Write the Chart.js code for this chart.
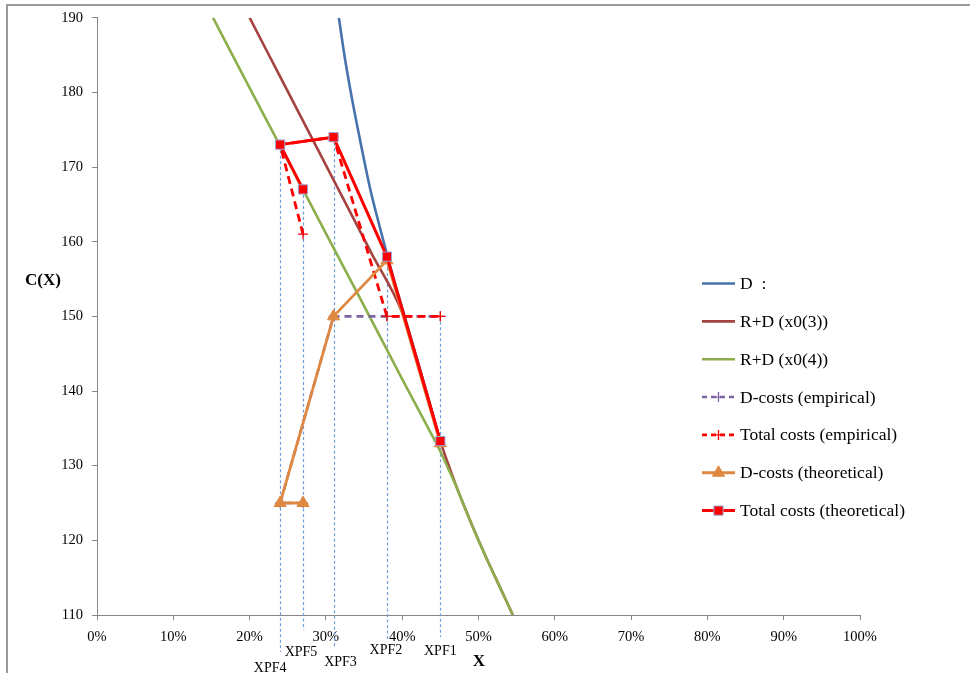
<!DOCTYPE html>
<html>
<head>
<meta charset="utf-8">
<script src="https://cdn.jsdelivr.net/npm/chart.js@4.4.0/dist/chart.umd.min.js"></script>
<style>
html, body { margin: 0; padding: 0; background: #fff; }
#wrap { width: 970px; height: 673px; }
</style>
</head>
<body>
<div id="wrap"><canvas id="costChart" width="970" height="673"></canvas></div>
<script>
// ---------- data ----------
// x in %, y = C(X)
const xTicks = [0, 10, 20, 30, 40, 50, 60, 70, 80, 90, 100];
const yTicks = [110, 120, 130, 140, 150, 160, 170, 180, 190];

const dCurveX = [31.7, 32.5, 33.5, 34.5, 35.8, 37, 38, 39, 40, 41, 42, 43, 44, 45];
const dCurveY = [190, 184.5, 178.7, 173.5, 167.1, 162.2, 158.3, 154.6, 151.1, 147.6, 144.1, 140.5, 136.9, 133.3];

const rd3X = [20, 24, 28, 32, 36, 40, 41, 42, 43, 44, 45, 46, 47, 48, 49, 50, 51, 52, 53, 54.5];
const rd3Y = [190, 182.1, 174.2, 166.3, 158.4, 150.5, 147.3, 144, 140.5, 136.9, 133.3, 130.3, 127.5, 124.9, 122.4, 120, 117.7, 115.5, 113.3, 110];

const rd4X = [15.2, 20, 25, 30, 35, 40, 44, 45, 46, 47, 48, 49, 50, 51, 52, 53, 54.5];
const rd4Y = [190, 180.6, 170.9, 161.1, 151.4, 141.6, 133.9, 131.9, 129.7, 127.4, 124.9, 122.4, 120, 117.7, 115.5, 113.3, 110];

// points in order XPF5, XPF4, XPF3, XPF2, XPF1
const pointX = [27, 24, 31, 38, 45];
const dCostsEmp = [125, 125, 150, 150, 150];
const totalEmp = [161, 173, 174, 150, 150];
const dCostsTheo = [125, 125, 150, 157.5, 133];
const totalTheo = [167, 173, 174, 158, 133.3];
const xpfNames = ['XPF5', 'XPF4', 'XPF3', 'XPF2', 'XPF1'];

const seriesNames = [
    'D  :',
    'R+D (x0(3))',
    'R+D (x0(4))',
    'D-costs (empirical)',
    'Total costs (empirical)',
    'D-costs (theoretical)',
    'Total costs (theoretical)'
];

function pairs(xs, ys) {
    return xs.map((x, i) => ({ x: x, y: ys[i] }));
}

const SERIF = '"Liberation Serif", "Times New Roman", serif';

// ---------- datasets ----------
const curveBase = { showLine: true, pointRadius: 0, borderWidth: 2.6, cubicInterpolationMode: 'monotone' };

const datasets = [
    Object.assign({ label: seriesNames[0], data: pairs(dCurveX, dCurveY), borderColor: '#4673AE' }, curveBase),
    Object.assign({ label: seriesNames[1], data: pairs(rd3X, rd3Y), borderColor: '#A4433F' }, curveBase),
    Object.assign({ label: seriesNames[2], data: pairs(rd4X, rd4Y), borderColor: '#8DAE4C' }, curveBase),
    {
        label: seriesNames[3], data: pairs(pointX, dCostsEmp), showLine: true,
        borderColor: '#7E63A1', borderWidth: 2.6, borderDash: [7, 5],
        pointStyle: 'cross', pointRadius: 5, pointBorderWidth: 1.3,
        pointBorderColor: '#7E63A1', pointBackgroundColor: '#7E63A1'
    },
    {
        label: seriesNames[4], data: pairs(pointX, totalEmp), showLine: true,
        borderColor: '#FF0000', borderWidth: 2.8, borderDash: [8, 5],
        pointStyle: 'cross', pointRadius: 5, pointBorderWidth: 1.3,
        pointBorderColor: '#FF0000', pointBackgroundColor: '#FF0000'
    },
    {
        label: seriesNames[5], data: pairs(pointX, dCostsTheo), showLine: true,
        borderColor: '#DF8841', borderWidth: 2.8,
        pointStyle: 'triangle', pointRadius: 7, pointBorderWidth: 1,
        pointBorderColor: '#DF8841', pointBackgroundColor: '#DF8841'
    },
    {
        label: seriesNames[6], data: pairs(pointX, totalTheo), showLine: true,
        borderColor: '#FF0000', borderWidth: 3,
        pointStyle: 'rect', pointRadius: 6.5, pointBorderWidth: 1,
        pointBorderColor: '#9AA3D8', pointBackgroundColor: '#FF0000'
    }
];
// later series on top, like the original
datasets.forEach((d, i) => { d.order = datasets.length - i; d.tension = d.tension || 0; });

// ---------- extra drawing: drop lines, labels, titles, legend ----------
const dropLayout = {
    XPF1: { line: 22, dx: 0, dy: 36 },
    XPF2: { line: 26, dx: -1, dy: 35 },
    XPF3: { line: 33, dx: 7, dy: 47 },
    XPF4: { line: 37, dx: -10, dy: 53 },
    XPF5: { line: 15, dx: -2, dy: 37 }
};

function marker(ctx, ds, x, y) {
    if (!ds.pointStyle || !ds.pointRadius) return;
    ctx.save();
    ctx.setLineDash([]);
    ctx.fillStyle = ds.pointBackgroundColor;
    ctx.strokeStyle = ds.pointBorderColor;
    ctx.lineWidth = ds.pointBorderWidth;
    Chart.helpers.drawPoint(ctx, { pointStyle: ds.pointStyle, radius: ds.pointRadius, rotation: 0, borderWidth: ds.pointBorderWidth }, x, y);
    ctx.restore();
}

const decor = {
    id: 'decor',
    beforeDatasetsDraw(chart) {
        const ctx = chart.ctx, xs = chart.scales.x, ys = chart.scales.y;
        const bottom = chart.chartArea.bottom;
        ctx.save();
        ctx.strokeStyle = '#6F9DE0';
        ctx.lineWidth = 1.2;
        ctx.setLineDash([3, 2.5]);
        pointX.forEach((v, i) => {
            const lay = dropLayout[xpfNames[i]];
            const px = Math.round(xs.getPixelForValue(v)) + 0.5;
            const top = ys.getPixelForValue(Math.max(totalEmp[i], totalTheo[i]));
            ctx.beginPath();
            ctx.moveTo(px, top);
            ctx.lineTo(px, bottom + lay.line);
            ctx.stroke();
        });
        ctx.restore();
    },
    afterDraw(chart) {
        const ctx = chart.ctx, xs = chart.scales.x;
        const bottom = chart.chartArea.bottom;
        ctx.save();

        // outer frame
        ctx.strokeStyle = '#9A9A9A';
        ctx.lineWidth = 2;
        ctx.beginPath();
        ctx.moveTo(7, chart.height);
        ctx.lineTo(7, 5);
        ctx.lineTo(chart.width, 5);
        ctx.stroke();

        // XPF labels
        ctx.fillStyle = '#000';
        ctx.font = '14px ' + SERIF;
        ctx.textAlign = 'center';
        ctx.textBaseline = 'middle';
        pointX.forEach((v, i) => {
            const lay = dropLayout[xpfNames[i]];
            ctx.fillText(xpfNames[i], xs.getPixelForValue(v) + lay.dx, bottom + lay.dy);
        });

        // axis titles
        ctx.font = 'bold 17px ' + SERIF;
        ctx.fillText('C(X)', 43, 281);
        ctx.fillText('X', 479, 662);

        // legend
        ctx.textAlign = 'left';
        ctx.font = '17.5px ' + SERIF;
        chart.data.datasets.forEach((ds, i) => {
            const y = 283.5 + i * 37.85;
            ctx.save();
            ctx.strokeStyle = ds.borderColor;
            ctx.lineWidth = ds.borderWidth;
            ctx.setLineDash(ds.borderDash ? [5, 4] : []);
            ctx.beginPath();
            ctx.moveTo(702, y);
            ctx.lineTo(735, y);
            ctx.stroke();
            ctx.restore();
            marker(ctx, ds, 718.5, y);
            ctx.fillStyle = '#000';
            ctx.fillText(ds.label, 740, y + 1);
        });
        ctx.restore();
    }
};

// ---------- chart ----------
const axisGrey = '#868686';

const costChart = new Chart(
    document.getElementById('costChart'),
    {
        type: 'scatter',
        data: { datasets: datasets },
        options: {
            responsive: false,
            animation: false,
            layout: { padding: { left: 0, top: 15, right: 110, bottom: 0 } },
            plugins: {
                legend: { display: false },
                tooltip: { enabled: false }
            },
            scales: {
                x: {
                    type: 'linear',
                    min: xTicks[0],
                    max: xTicks[xTicks.length - 1],
                    afterBuildTicks: s => { s.ticks = xTicks.map(v => ({ value: v })); },
                    afterFit: s => { s.height = 58; },
                    ticks: {
                        callback: v => v + '%',
                        color: '#000',
                        padding: 8,
                        maxRotation: 0,
                        font: { family: SERIF, size: 14.5 }
                    },
                    grid: { drawOnChartArea: false, tickLength: 5, color: axisGrey },
                    border: { color: axisGrey, width: 1 }
                },
                y: {
                    min: yTicks[0],
                    max: yTicks[yTicks.length - 1],
                    afterBuildTicks: s => { s.ticks = yTicks.map(v => ({ value: v })); },
                    afterFit: s => { s.width = 97; },
                    ticks: {
                        color: '#000',
                        padding: 9,
                        font: { family: SERIF, size: 14.5 }
                    },
                    grid: { drawOnChartArea: false, tickLength: 5, color: axisGrey },
                    border: { color: axisGrey, width: 1 }
                }
            }
        },
        plugins: [decor]
    }
);
</script>
</body>
</html>
